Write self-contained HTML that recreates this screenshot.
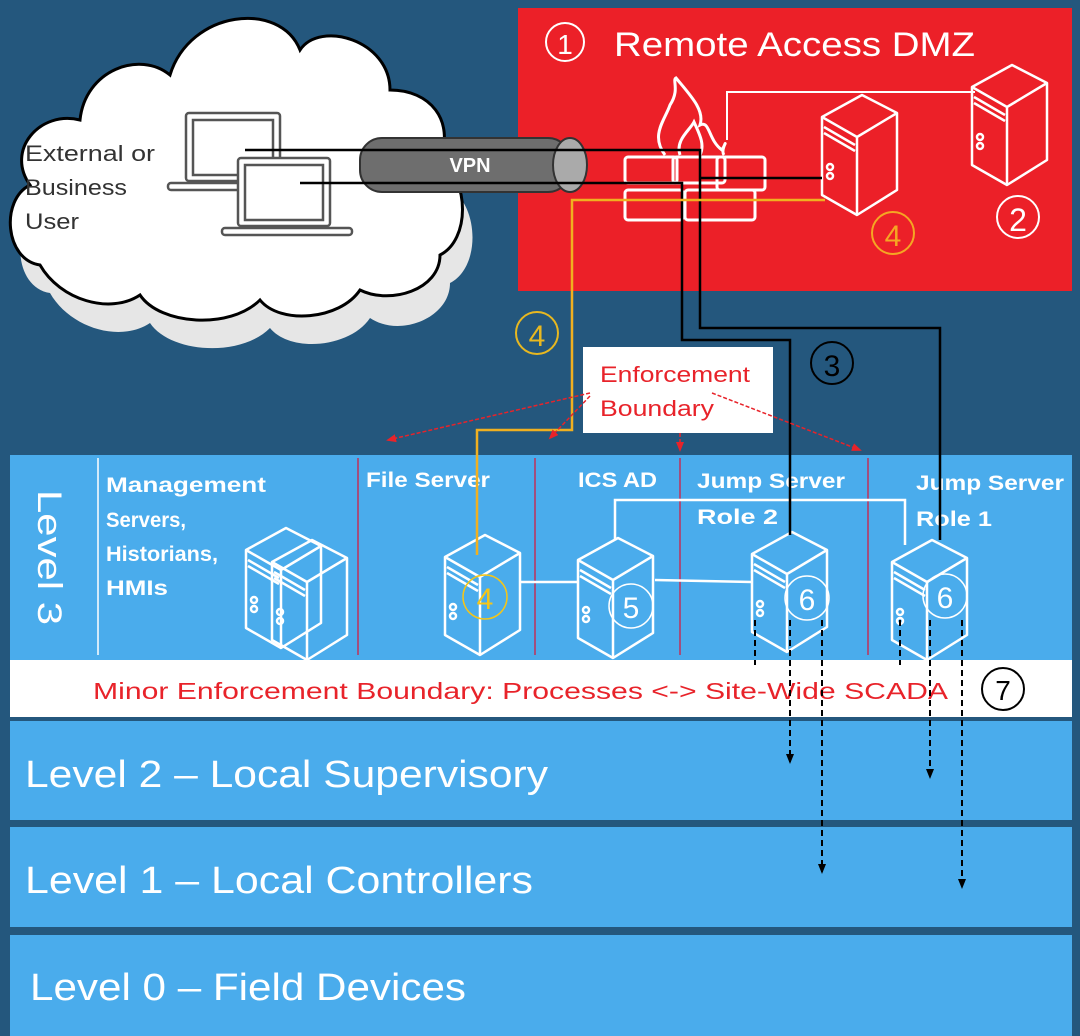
<!DOCTYPE html>
<html><head><meta charset="utf-8"><style>
html,body{margin:0;padding:0;background:#24577d;}
svg{display:block}
text{font-family:"Liberation Sans",sans-serif}
</style></head><body>
<svg width="1080" height="1036" viewBox="0 0 1080 1036" xmlns="http://www.w3.org/2000/svg">
<defs>
<marker id="ar" markerUnits="userSpaceOnUse" markerWidth="10" markerHeight="10" refX="8" refY="5" orient="auto"><path d="M0,1 L10,5 L0,9z" fill="#e8232a"/></marker>
<marker id="ab" markerUnits="userSpaceOnUse" markerWidth="10" markerHeight="10" refX="8" refY="5" orient="auto"><path d="M0,1 L10,5 L0,9z" fill="#000"/></marker>
<g id="srv" fill="none" stroke="#fff" stroke-width="2.5" stroke-linejoin="round">
<path d="M0,22 L40,0 L75,18 L75,95 L35,120 L0,100 Z"/>
<path d="M0,22 L35,42 L75,18 M35,42 L35,120"/>
<path d="M2,32 L33,50 M2,38 L33,56"/>
<circle cx="8" cy="72" r="3"/><circle cx="8" cy="81" r="3"/>
</g>
</defs>
<rect width="1080" height="1036" fill="#24577d"/>
<!-- DMZ -->
<rect x="518" y="8" width="554" height="283" fill="#ec2028"/>
<circle cx="565" cy="42" r="19" fill="none" stroke="#fff" stroke-width="2"/>
<text x="565" y="54" font-size="28" fill="#fff" text-anchor="middle">1</text>
<text x="614" y="56" font-size="34" fill="#fff" textLength="361" lengthAdjust="spacingAndGlyphs">Remote Access DMZ</text>
<circle cx="1018" cy="217" r="21" fill="none" stroke="#fff" stroke-width="2"/>
<text x="1018" y="231" font-size="32" fill="#fff" text-anchor="middle">2</text>
<circle cx="893" cy="233" r="21" fill="none" stroke="#f5a623" stroke-width="2"/>
<text x="893" y="246" font-size="30" fill="#f5a623" text-anchor="middle">4</text>
<path d="M727,140 L727,92 L975,92" fill="none" stroke="#fff" stroke-width="2"/>
<use href="#srv" x="822" y="95"/>
<use href="#srv" x="972" y="65"/>
<!-- firewall -->
<g fill="none" stroke="#fff" stroke-width="3">
<path d="M665,155 C650,135 665,120 670,105 C680,90 672,80 676,78 C690,95 705,110 700,125 C710,120 708,140 722,150 C730,135 720,150 724,155"/>
<path d="M680,155 C675,140 690,130 694,122 C700,135 705,145 700,155"/>
<rect x="625" y="157" width="52" height="26" rx="3"/><rect x="673" y="157" width="52" height="26" rx="3"/>
<rect x="625" y="190" width="58" height="30" rx="3"/><rect x="685" y="190" width="70" height="30" rx="3"/>
<rect x="717" y="157" width="48" height="33" rx="3"/>
</g>
<!-- cloud -->
<g>
<path d="M40,275 C5,270 0,210 30,195 C5,160 40,120 80,130 C85,80 140,60 170,85 C190,20 280,10 300,60 C320,30 390,50 390,100 C430,100 455,130 440,170 C470,190 470,250 440,265 C440,300 390,320 360,300 C340,330 280,335 260,310 C230,340 160,335 140,305 C110,325 60,310 40,275 Z" fill="#e6e6e6" transform="translate(10,18)"/>
<path d="M40,265 C5,260 0,200 30,185 C5,150 40,110 80,120 C85,70 140,50 170,75 C190,10 280,0 300,50 C320,20 390,40 390,90 C430,90 455,120 440,160 C470,180 470,240 440,255 C440,290 390,305 360,290 C340,320 280,325 260,300 C230,330 160,325 140,295 C110,315 60,300 40,265 Z" fill="#fff" stroke="#000" stroke-width="3"/>
</g>
<text font-size="22" fill="#333"><tspan x="25" y="161" textLength="130" lengthAdjust="spacingAndGlyphs">External or</tspan></text>
<text font-size="22" fill="#333" x="25" y="195" textLength="102" lengthAdjust="spacingAndGlyphs">Business</text>
<text font-size="22" fill="#333" x="25" y="229" textLength="54" lengthAdjust="spacingAndGlyphs">User</text>
<g fill="none" stroke="#555" stroke-width="2.5">
<rect x="186" y="113" width="94" height="68" rx="3"/><rect x="193" y="120" width="80" height="55"/>
<rect x="168" y="183" width="130" height="7" rx="3"/>
<rect x="238" y="158" width="92" height="68" rx="3" fill="#fff"/><rect x="245" y="165" width="78" height="55"/>
<rect x="222" y="228" width="130" height="7" rx="3"/>
</g>
<!-- VPN tube -->
<rect x="360" y="138" width="210" height="54" rx="22" fill="#6e6e6e" stroke="#333" stroke-width="2"/>
<ellipse cx="570" cy="165" rx="17" ry="27" fill="#aaa" stroke="#333" stroke-width="2"/>
<text x="470" y="172" font-size="20" fill="#fff" text-anchor="middle" font-weight="bold">VPN</text>
<!-- Levels -->
<rect x="10" y="455" width="1062" height="205" fill="#4aacec"/>
<rect x="10" y="660" width="1062" height="57" fill="#fff"/>
<rect x="10" y="721" width="1062" height="99" fill="#4aacec"/>
<rect x="10" y="827" width="1062" height="100" fill="#4aacec"/>
<rect x="10" y="935" width="1062" height="101" fill="#4aacec"/>
<line x1="98" y1="458" x2="98" y2="655" stroke="#fff" stroke-width="1.5"/>
<g stroke="#c0305a" stroke-width="1.5">
<line x1="358" y1="458" x2="358" y2="655"/><line x1="535" y1="458" x2="535" y2="655"/><line x1="680" y1="458" x2="680" y2="655"/><line x1="868" y1="458" x2="868" y2="655"/>
</g>
<text transform="translate(38,490) rotate(90)" font-size="34" fill="#fff" textLength="135" lengthAdjust="spacingAndGlyphs">Level 3</text>
<g font-size="21" fill="#fff" font-weight="bold">
<text x="106" y="492" textLength="160" lengthAdjust="spacingAndGlyphs">Management</text>
<text x="106" y="527" textLength="80" lengthAdjust="spacingAndGlyphs">Servers,</text>
<text x="106" y="561" textLength="112" lengthAdjust="spacingAndGlyphs">Historians,</text>
<text x="106" y="595" textLength="62" lengthAdjust="spacingAndGlyphs">HMIs</text>
<text x="366" y="487" textLength="124" lengthAdjust="spacingAndGlyphs">File Server</text>
<text x="578" y="487" textLength="79" lengthAdjust="spacingAndGlyphs">ICS AD</text>
<text x="697" y="488" textLength="148" lengthAdjust="spacingAndGlyphs">Jump Server</text>
<text x="697" y="524" textLength="81" lengthAdjust="spacingAndGlyphs">Role 2</text>
<text x="916" y="490" textLength="148" lengthAdjust="spacingAndGlyphs">Jump Server</text>
<text x="916" y="526" textLength="76" lengthAdjust="spacingAndGlyphs">Role 1</text>
</g>
<path d="M615,540 L615,500 L905,500 L905,545" fill="none" stroke="#fff" stroke-width="2.5"/>
<line x1="520" y1="582" x2="578" y2="582" stroke="#fff" stroke-width="2.5"/>
<line x1="655" y1="580" x2="752" y2="582" stroke="#fff" stroke-width="2.5"/>
<use href="#srv" x="246" y="528"/>
<use href="#srv" x="272" y="540"/>
<use href="#srv" x="445" y="535"/>
<use href="#srv" x="578" y="538"/>
<use href="#srv" x="752" y="532"/>
<use href="#srv" x="892" y="540"/>
<circle cx="485" cy="597" r="22" fill="none" stroke="#f5c518" stroke-width="1.5"/>
<text x="485" y="609" font-size="30" fill="#f5c518" text-anchor="middle">4</text>
<circle cx="631" cy="606" r="22" fill="none" stroke="#fff" stroke-width="1.5"/>
<text x="631" y="618" font-size="30" fill="#fff" text-anchor="middle">5</text>
<circle cx="807" cy="598" r="22" fill="none" stroke="#fff" stroke-width="1.5"/>
<text x="807" y="610" font-size="30" fill="#fff" text-anchor="middle">6</text>
<circle cx="945" cy="596" r="22" fill="none" stroke="#fff" stroke-width="1.5"/>
<text x="945" y="608" font-size="30" fill="#fff" text-anchor="middle">6</text>
<text x="93" y="699" font-size="23" fill="#e8232a" textLength="855" lengthAdjust="spacingAndGlyphs">Minor Enforcement Boundary: Processes &lt;-&gt; Site-Wide SCADA</text>
<circle cx="1003" cy="689" r="21" fill="none" stroke="#000" stroke-width="2"/>
<text x="1003" y="700" font-size="28" fill="#000" text-anchor="middle">7</text>
<text x="25" y="787" font-size="38" fill="#fff" textLength="523" lengthAdjust="spacingAndGlyphs">Level 2 – Local Supervisory</text>
<text x="25" y="893" font-size="38" fill="#fff" textLength="508" lengthAdjust="spacingAndGlyphs">Level 1 – Local Controllers</text>
<text x="30" y="1000" font-size="38" fill="#fff" textLength="436" lengthAdjust="spacingAndGlyphs">Level 0 – Field Devices</text>
<!-- connectors -->
<g fill="none" stroke-width="2.5">
<path d="M245,150 L700,150 L700,328 L940,328 L940,540" stroke="#000"/>
<path d="M300,183 L682,183 L682,340 L790,340 L790,535" stroke="#000"/>
<path d="M700,178 L822,178" stroke="#000"/>
<path d="M825,200 L572,200 L572,430 L477,430 L477,555" stroke="#f0b020"/>
</g>
<g fill="none" stroke="#000" stroke-width="2" stroke-dasharray="6,4">
<line x1="755" y1="620" x2="755" y2="665"/><line x1="790" y1="620" x2="790" y2="762" marker-end="url(#ab)"/>
<line x1="822" y1="620" x2="822" y2="872" marker-end="url(#ab)"/>
<line x1="900" y1="620" x2="900" y2="665"/><line x1="930" y1="620" x2="930" y2="777" marker-end="url(#ab)"/>
<line x1="962" y1="620" x2="962" y2="887" marker-end="url(#ab)"/>
</g>
<circle cx="537" cy="333" r="21" fill="none" stroke="#e8b820" stroke-width="2"/>
<text x="537" y="346" font-size="30" fill="#e8b820" text-anchor="middle">4</text>
<circle cx="832" cy="363" r="21" fill="none" stroke="#000" stroke-width="2"/>
<text x="832" y="376" font-size="30" fill="#000" text-anchor="middle">3</text>
<!-- enforcement box -->
<rect x="583" y="347" width="190" height="86" fill="#fff"/>
<text font-size="22" fill="#e8232a" x="600" y="382" textLength="150" lengthAdjust="spacingAndGlyphs">Enforcement</text>
<text font-size="22" fill="#e8232a" x="600" y="416" textLength="114" lengthAdjust="spacingAndGlyphs">Boundary</text>
<g stroke="#e8232a" stroke-width="1.5" stroke-dasharray="4,2" fill="none">
<line x1="590" y1="393" x2="388" y2="440" marker-end="url(#ar)"/>
<line x1="590" y1="396" x2="550" y2="438" marker-end="url(#ar)"/>
<line x1="680" y1="433" x2="680" y2="450" marker-end="url(#ar)"/>
<line x1="712" y1="393" x2="860" y2="450" marker-end="url(#ar)"/>
</g>
</svg>
</body></html>
